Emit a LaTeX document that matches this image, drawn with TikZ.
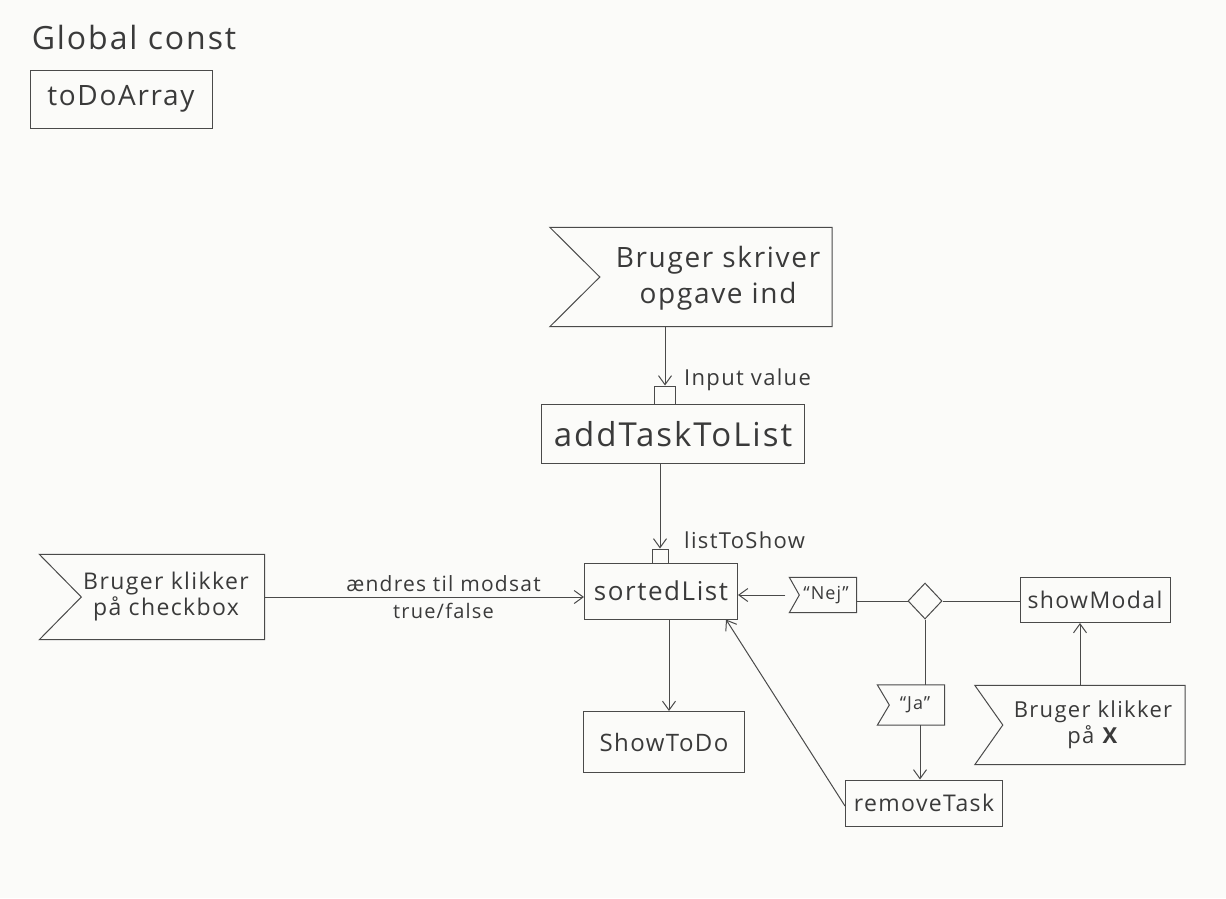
\documentclass[tikz,border=0pt]{standalone}
\usepackage{fontspec}
\setmainfont{Open Sans}[LetterSpace=6]
\usetikzlibrary{arrows.meta,shapes.geometric,calc}
\definecolor{ink}{HTML}{4A4A4A}
\definecolor{txt}{HTML}{3A3A3A}
\definecolor{paper}{HTML}{FBFBF9}
\tikzset{
  ln/.style={draw=ink, line width=1pt},
  arr/.style={ln, -{Straight Barb[length=9pt,width=13pt,line width=1pt]}},
  box/.style={ln, rectangle, inner sep=0pt, text=txt},
  flagframe/.style={rectangle, inner sep=0pt},
  pinbox/.style={ln, rectangle, inner sep=0pt},
  lbl/.style={text=txt, inner sep=1pt, align=center},
}
\newcommand\drawflag[2]{\draw[ln] (#1.north west) -- (#1.north east) -- (#1.south east) -- (#1.south west) -- ([xshift=#2]#1.west) -- cycle;}
\begin{document}
\begin{tikzpicture}[x=1pt,y=-1pt]
\fill[paper] (0,0) rectangle (1226,898);
\useasboundingbox (0,0) rectangle (1226,898);

% Global const
\node[lbl, font=\fontsize{32}{36}\selectfont] (gc) at (134,37) {Global const};
\node[box, minimum width=182pt, minimum height=58pt, font=\fontsize{28}{32}\selectfont] (tda) at (121,99) {toDoArray};

% Bruger skriver opgave ind
\node[flagframe, minimum width=282pt, minimum height=99pt] (bs) at (691,277) {};
\drawflag{bs}{50pt}
\node[lbl, font=\fontsize{28}{36}\selectfont] (bst) at (718,278) {Bruger skriver\\opgave ind};

% input pin
\node[pinbox, minimum width=21pt, minimum height=18pt] (pin1) at (665,395) {};
\node[lbl, anchor=west, font=\fontsize{22}{24}\selectfont] (pin1l) at (683,380) {Input value};
\draw[arr] (pin1 |- bs.south) -- (pin1.north);

% addTaskToList
\node[box, minimum width=263pt, minimum height=59pt, font=\fontsize{33}{36}\selectfont] (atl) at (673,434) {addTaskToList};

% listToShow pin
\node[pinbox, minimum width=16pt, minimum height=14pt] (pin2) at (660,556) {};
\node[lbl, anchor=west, font=\fontsize{22}{24}\selectfont] (pin2l) at (683,540) {listToShow};
\draw[arr] (pin2 |- atl.south) -- (pin2.north);

% sortedList
\node[box, minimum width=153pt, minimum height=56pt, font=\fontsize{26}{30}\selectfont] (sl) at (661,591) {sortedList};

% Bruger klikker paa checkbox
\node[flagframe, minimum width=225pt, minimum height=85pt] (bk) at (152,597) {};
\drawflag{bk}{42pt}
\node[lbl, font=\fontsize{23}{26}\selectfont] (bkt) at (166,597) {Bruger klikker\\på checkbox};
\draw[arr] (bk.east) -- (sl.west |- bk.east) node[pos=0.56, above=4pt, lbl, font=\fontsize{21}{24}\selectfont] (e1) {ændres til modsat} node[pos=0.56, below=5pt, lbl, font=\fontsize{20}{24}\selectfont] (e2) {true/false};

% Nej
\node[flagframe, minimum width=67pt, minimum height=35pt] (nej) at (823,595) {};
\drawflag{nej}{10pt}
\node[lbl, font=\fontsize{18}{20}\selectfont] (nejt) at (826,595) {``Nej''};
\draw[arr] ([xshift=-4pt]nej.west) -- (sl.east |- nej.west);

% decision diamond
\node[ln, diamond, minimum width=34pt, minimum height=36pt, inner sep=0pt, shape aspect=0.95] (dm) at (925,601) {};
\draw[ln] (nej.east |- dm.west) -- (dm.west);

% showModal
\node[box, minimum width=150pt, minimum height=45pt, font=\fontsize{23}{26}\selectfont] (sm) at (1095,600) {showModal};
\draw[ln] (dm.east) -- (sm.west |- dm.east);

% Ja
\node[flagframe, minimum width=67pt, minimum height=40pt] (ja) at (911,705) {};
\drawflag{ja}{12pt}
\node[lbl, font=\fontsize{18}{20}\selectfont] (jat) at (915,705) {``Ja''};
\draw[ln] (dm.south) -- (dm.south |- ja.north);

% removeTask
\node[box, minimum width=157pt, minimum height=46pt, font=\fontsize{23}{26}\selectfont] (rt) at (924,803) {removeTask};
\draw[arr] ([xshift=9pt]ja.south) -- ([xshift=9pt]ja.south |- rt.north);
\draw[arr] ([yshift=-3pt]rt.west) -- ($(sl.south east)+(-12,0)$);

% Bruger klikker paa X
\node[flagframe, minimum width=210pt, minimum height=79pt] (bx) at (1080,725) {};
\drawflag{bx}{28pt}
\node[lbl, font=\fontsize{22}{26}\selectfont] (bxt) at (1093,725) {Bruger klikker\\på \textbf{X}};
\draw[arr] (bx.north) -- (bx.north |- sm.south);

% ShowToDo
\node[box, minimum width=161pt, minimum height=61pt, font=\fontsize{24}{28}\selectfont] (std) at (664,742) {ShowToDo};
\draw[arr] ([xshift=8pt]sl.south) -- ([xshift=8pt]sl.south |- std.north);
\end{tikzpicture}
\end{document}
